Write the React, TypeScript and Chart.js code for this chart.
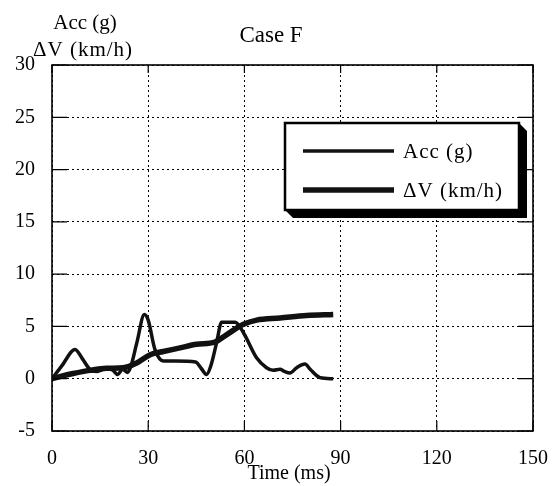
import React, { useEffect, useRef } from "react";
import { Chart, registerables } from "chart.js";

Chart.register(...registerables);

// ---- data ----
const chartTitle = "Case F";
const yTitleLines = ["Acc (g)", "ΔV (km/h)"];
const xTitle = "Time (ms)";
const seriesLabels = ["Acc (g)", "ΔV (km/h)"];

const accTime = [0, 3, 7.2, 9.5, 11.8, 14, 17, 19, 20.5, 22, 23.5, 24.5, 26.5, 28.8, 30, 32.1, 34.7, 38.5, 44.8, 46.5, 48.2, 49.5, 51.3, 52.9, 57.1, 59.7, 63.8, 66.9, 69, 71.1, 72.5, 74.2, 76.3, 78.9, 80.5, 83.6, 87.7];
const accValues = [0, 1.2, 2.8, 1.9, 0.9, 0.7, 1.0, 0.8, 0.4, 0.9, 0.6, 1.1, 3.5, 6.15, 5.6, 2.8, 1.7, 1.7, 1.6, 1.0, 0.4, 1.2, 3.4, 5.4, 5.4, 4.4, 2.0, 1.05, 0.8, 0.9, 0.7, 0.55, 1.05, 1.4, 0.9, 0.1, 0];

const dvTime = [0, 3, 6.6, 11.8, 17, 22.2, 26.4, 30.6, 34.7, 39.9, 45.1, 50.8, 54.4, 59.7, 63.8, 71.1, 79.4, 87.7];
const dvValues = [0, 0.25, 0.5, 0.8, 1.0, 1.05, 1.5, 2.3, 2.6, 2.95, 3.3, 3.5, 4.2, 5.2, 5.6, 5.8, 6.05, 6.15];

const xTickValues = [0, 30, 60, 90, 120, 150];
const yTickValues = [-5, 0, 5, 10, 15, 20, 25, 30];

const FONT = '"Liberation Serif", "Times New Roman", serif';

const decorPlugin = {
  id: "decor",
  afterDraw(chart: any) {
    const { ctx, chartArea } = chart;
    const { left, right, top, bottom } = chartArea;
    const xs = chart.scales.x;
    const ys = chart.scales.y;
    ctx.save();
    ctx.strokeStyle = "#000";
    ctx.fillStyle = "#000";

    // inner solid tick marks
    ctx.lineWidth = 1.2;
    ctx.setLineDash([]);
    yTickValues.forEach((v) => {
      const y = ys.getPixelForValue(v);
      ctx.beginPath();
      ctx.moveTo(left, y);
      ctx.lineTo(left + 15, y);
      ctx.moveTo(right - 15, y);
      ctx.lineTo(right, y);
      ctx.stroke();
    });
    xTickValues.forEach((v) => {
      const x = xs.getPixelForValue(v);
      ctx.beginPath();
      ctx.moveTo(x, bottom);
      ctx.lineTo(x, bottom - 10);
      ctx.moveTo(x, top);
      ctx.lineTo(x, top + 8);
      ctx.stroke();
    });

    // frame
    ctx.lineWidth = 1.6;
    ctx.strokeRect(left, top, right - left, bottom - top);

    // texts
    ctx.textAlign = "center";
    ctx.textBaseline = "alphabetic";
    ctx.font = `23px ${FONT}`;
    ctx.fillText(chartTitle, 271, 42);
    ctx.font = `21px ${FONT}`;
    ctx.fillText(yTitleLines[0], 85, 29);
    (ctx as any).letterSpacing = "1px";
    ctx.fillText(yTitleLines[1], 83, 56);
    (ctx as any).letterSpacing = "0px";
    ctx.font = `20px ${FONT}`;
    ctx.fillText(xTitle, 289, 479);

    // legend box with shadow
    const bx = 285, by = 123, bw = 234, bh = 87, sh = 8;
    ctx.beginPath();
    ctx.moveTo(bx + bw, by);
    ctx.lineTo(bx + bw + sh, by + sh);
    ctx.lineTo(bx + bw + sh, by + bh + sh);
    ctx.lineTo(bx + sh, by + bh + sh);
    ctx.lineTo(bx, by + bh);
    ctx.closePath();
    ctx.fill();
    ctx.fillStyle = "#fff";
    ctx.fillRect(bx, by, bw, bh);
    ctx.lineWidth = 2.5;
    ctx.strokeRect(bx, by, bw, bh);

    const ds = chart.data.datasets;
    const rows = [151, 190];
    ctx.textAlign = "left";
    ctx.font = `21px ${FONT}`;
    (ctx as any).letterSpacing = "1px";
    ds.forEach((d: any, i: number) => {
      ctx.strokeStyle = d.borderColor;
      ctx.lineWidth = d.borderWidth;
      ctx.beginPath();
      ctx.moveTo(303, rows[i]);
      ctx.lineTo(394, rows[i]);
      ctx.stroke();
      ctx.fillStyle = "#000";
      ctx.fillText(d.label, 403, rows[i] + 7);
    });
    (ctx as any).letterSpacing = "0px";
    ctx.restore();
  },
};

export default function App() {
  const ref = useRef<HTMLCanvasElement | null>(null);

  useEffect(() => {
    document.body.style.margin = "0";
    const canvas = ref.current;
    if (!canvas) return;
    const chart = new Chart(canvas, {
      type: "line",
      data: {
        datasets: [
          {
            label: seriesLabels[0],
            data: accTime.map((t, i) => ({ x: t, y: accValues[i] })),
            borderColor: "#111",
            borderWidth: 3.5,
            pointRadius: 0,
            fill: false,
            cubicInterpolationMode: "monotone",
          },
          {
            label: seriesLabels[1],
            data: dvTime.map((t, i) => ({ x: t, y: dvValues[i] })),
            borderColor: "#111",
            borderWidth: 5.5,
            pointRadius: 0,
            fill: false,
            cubicInterpolationMode: "monotone",
          },
        ],
      },
      options: {
        responsive: false,
        animation: false,
        layout: { padding: { top: 65, right: 22, left: 0, bottom: 0 } },
        plugins: {
          legend: { display: false },
          title: { display: false },
          tooltip: { enabled: false },
        },
        scales: {
          x: {
            type: "linear",
            min: 0,
            max: 150,
            afterBuildTicks: (s: any) => {
              s.ticks = xTickValues.map((v) => ({ value: v }));
            },
            afterFit: (s: any) => {
              s.height = 55;
              s.paddingLeft = 0;
              s.paddingRight = 0;
            },
            ticks: {
              color: "#000",
              font: { family: FONT, size: 20 },
              padding: 16,
              maxRotation: 0,
            },
            grid: { color: "#000", lineWidth: 1, drawTicks: false },
            border: { display: false, dash: [2, 3] },
          },
          y: {
            type: "linear",
            min: -5,
            max: 30,
            afterBuildTicks: (s: any) => {
              s.ticks = yTickValues.map((v) => ({ value: v }));
            },
            afterFit: (s: any) => {
              s.width = 52;
              s.paddingTop = 0;
              s.paddingBottom = 0;
            },
            ticks: {
              color: "#000",
              font: { family: FONT, size: 20 },
              padding: 17,
            },
            grid: { color: "#000", lineWidth: 1, drawTicks: false },
            border: { display: false, dash: [2, 3] },
          },
        },
      },
      plugins: [decorPlugin],
    } as any);
    return () => chart.destroy();
  }, []);

  return (
    <div style={{ width: 555, height: 486, background: "#fff" }}>
      <canvas ref={ref} width={555} height={486} />
    </div>
  );
}
